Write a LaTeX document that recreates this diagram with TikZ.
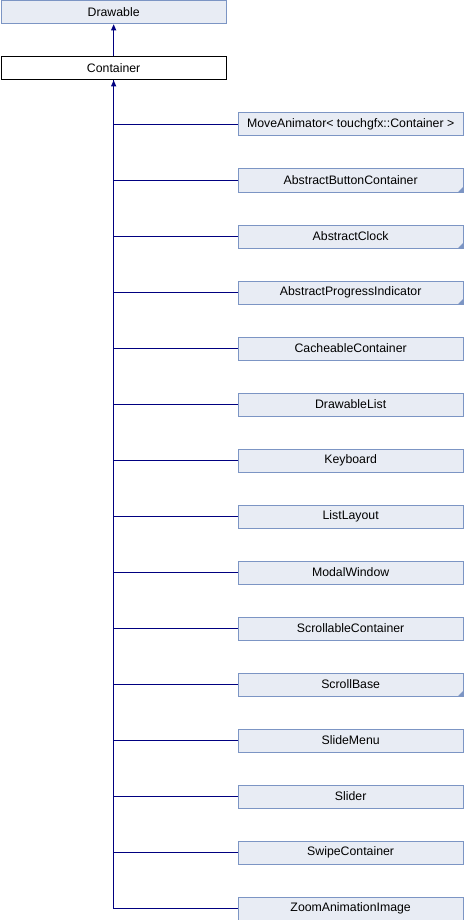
\documentclass[tikz,border=0pt]{standalone}
\usepackage{fontspec}
\setmainfont{Liberation Sans}
\usetikzlibrary{arrows.meta}
\definecolor{boxfill}{HTML}{E8ECF4}
\definecolor{boxedge}{HTML}{7C95C4}
\definecolor{linkblue}{HTML}{000080}
\tikzset{
  x=1pt, y=-1pt,
  classbox/.style={draw=boxedge, fill=boxfill, line width=0.8pt, minimum width=225.5pt,
    minimum height=23pt, inner sep=0pt, font=\fontsize{12.3}{14}\selectfont, anchor=north west},
  focusbox/.style={classbox, draw=black, fill=white},
  inherit/.style={draw=linkblue, line width=0.9pt},
  parentarrow/.style={inherit, -{Triangle[width=5pt,length=6pt]}},
}
% small corner mark for classes with hidden subclasses
\newcommand{\cornermark}[1]{\fill[boxedge] ([xshift=-0.5pt,yshift=0.5pt]#1.south east) -- ++(0,-5) -- ++(-5,5) -- cycle;}
\begin{document}
\begin{tikzpicture}
\useasboundingbox (0,0) rectangle (464,920);
\node[classbox] (drawable) at (0.5,0.5) {Drawable};
\node[focusbox] (container) at (0.5,56.5) {Container};
\draw[parentarrow] (container.north) -- (drawable.south);

\foreach \name/\label [count=\i from 0] in {
  move/{MoveAnimator< touchgfx::Container >},
  button/AbstractButtonContainer,
  clock/AbstractClock,
  progress/AbstractProgressIndicator,
  cacheable/CacheableContainer,
  dlist/DrawableList,
  keyboard/Keyboard,
  listlayout/ListLayout,
  modal/ModalWindow,
  scrollable/ScrollableContainer,
  scrollbase/ScrollBase,
  slidemenu/SlideMenu,
  slider/Slider,
  swipe/SwipeContainer,
  zoom/ZoomAnimationImage} {
  \node[classbox] (\name) at (237.5,112.5+56*\i) {\label};
}
\cornermark{button}
\cornermark{clock}
\cornermark{progress}
\cornermark{scrollbase}

\coordinate (trunk) at (container.south);
\draw[inherit] (zoom.west) -| (trunk);
\draw[parentarrow] (container.south |- move.west) -- (container.south);
\foreach \name in {move,button,clock,progress,cacheable,dlist,keyboard,listlayout,
  modal,scrollable,scrollbase,slidemenu,slider,swipe} {
  \draw[inherit] (\name.west) -- (container.south |- \name.west);
}
\end{tikzpicture}
\end{document}
